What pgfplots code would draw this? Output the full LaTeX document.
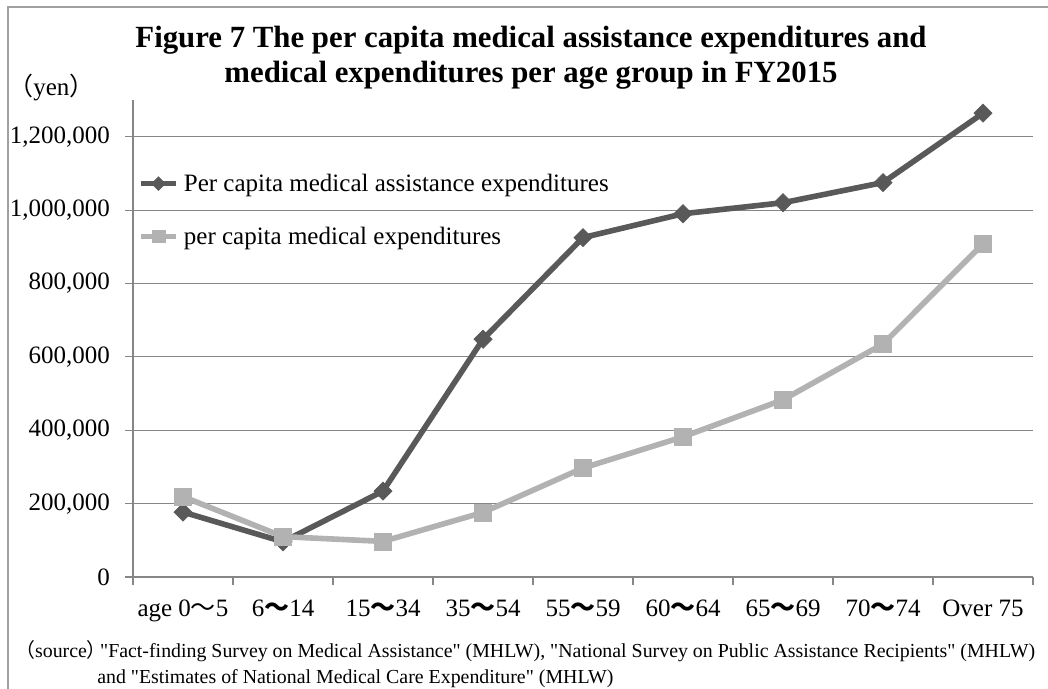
\documentclass[border=0pt]{standalone}
\usepackage{pgfplots}
\pgfplotsset{compat=1.18}
\usepackage{fontspec}
\setmainfont{Liberation Serif}
\newfontfamily\cjk{Noto Sans CJK JP}
\definecolor{darkser}{RGB}{89,89,89}
\definecolor{lightser}{RGB}{178,178,178}
\definecolor{gridc}{RGB}{134,134,134}
\definecolor{framec}{RGB}{160,160,160}
\newcommand{\tl}{{\cjk\bfseries ～}}
\newcommand{\q}{\textquotedbl}
\begin{document}
\begin{tikzpicture}
\begin{scope}[x=0.75pt,y=0.75pt]
\useasboundingbox (0,0) rectangle (1048,688);
\draw[framec, line width=1.2pt] (8,-5) -- (8,681) -- (1055,681);
\node[anchor=base, font=\bfseries\fontsize{23.1pt}{26pt}\selectfont, inner sep=0pt] at (531,640) {Figure 7 The per capita medical assistance expenditures and};
\node[anchor=base, font=\bfseries\fontsize{23.1pt}{26pt}\selectfont, inner sep=0pt] at (531,605) {medical expenditures per age group in FY2015};
\node[anchor=base west, font=\fontsize{18.75pt}{22pt}\selectfont, inner sep=0pt] at (8,592) {{\cjk （}yen{\cjk ）}};
\node[anchor=base west, font=\fontsize{14.9pt}{17pt}\selectfont, inner sep=0pt] at (15,31) {{\cjk （}source{\cjk ）}\hspace{-5pt}\q Fact-finding Survey on Medical Assistance\q{} (MHLW), \q National Survey on Public Assistance Recipients\q{} (MHLW)};
\node[anchor=base west, font=\fontsize{14.9pt}{17pt}\selectfont, inner sep=0pt] at (97,4) {and \q Estimates of National Medical Care Expenditure\q{} (MHLW)};
\end{scope}
\begin{axis}[
  at={(99.75pt,83.25pt)}, anchor=south west,
  scale only axis, width=675pt, height=357.75pt,
  xmin=0, xmax=9, ymin=0, ymax=1300000,
  axis lines=left, axis line style={-, gridc, line width=0.8pt},
  xtick={0,...,9}, xticklabels={},
  extra x ticks={0.5,1.5,2.5,3.5,4.5,5.5,6.5,7.5,8.5},
  extra x tick labels={age 0{\cjk ～}5, 6\tl14, 15\tl34, 35\tl54, 55\tl59, 60\tl64, 65\tl69, 70\tl74, Over 75},
  extra x tick style={major tick length=0pt},
  ytick={0,200000,400000,600000,800000,1000000,1200000},
  scaled y ticks=false,
  yticklabel={\pgfmathprintnumber[fixed,precision=0,1000 sep={,},assume math mode=true]{\tick}},
  ymajorgrids, major grid style={gridc, line width=0.8pt},
  tick style={gridc, line width=0.8pt},
  tick align=outside, major tick length=6pt,
  tick label style={font=\fontsize{18.75pt}{22pt}\selectfont, text=black},
  xticklabel style={anchor=base, inner sep=0pt, yshift=-30pt},
  yticklabel style={anchor=east, inner sep=0pt, xshift=-11.2pt},
  clip=false,
  legend cell align=left,
  legend style={at={(0.0056,0.7694)}, anchor=west, draw=none, fill=none, inner sep=0pt,
    row sep=25pt, column sep=4pt, font=\fontsize{18.75pt}{22pt}\selectfont, nodes={inner sep=0pt}},
  legend image code/.code={\draw[mark repeat=2, mark phase=2, #1, every mark/.append style={scale=0.75}] plot coordinates {(0pt,0pt) (13pt,0pt) (26pt,0pt)};},
]
\addplot[darkser, line width=4.2pt, mark=square*, mark size=4.8pt, mark options={rotate=45, line width=0.5pt, solid}]
  coordinates {(0.5,177000) (1.5,96000) (2.5,234000) (3.5,648000) (4.5,925000) (5.5,990000) (6.5,1020000) (7.5,1075000) (8.5,1264000)};
\addlegendentry{Per capita medical assistance expenditures}
\addplot[lightser, line width=4.2pt, mark=square*, mark size=6.4pt, mark options={line width=0.5pt, solid}]
  coordinates {(0.5,219000) (1.5,110000) (2.5,97000) (3.5,176000) (4.5,297000) (5.5,382000) (6.5,483000) (7.5,635000) (8.5,908000)};
\addlegendentry{per capita medical expenditures}
\end{axis}
\end{tikzpicture}
\end{document}
